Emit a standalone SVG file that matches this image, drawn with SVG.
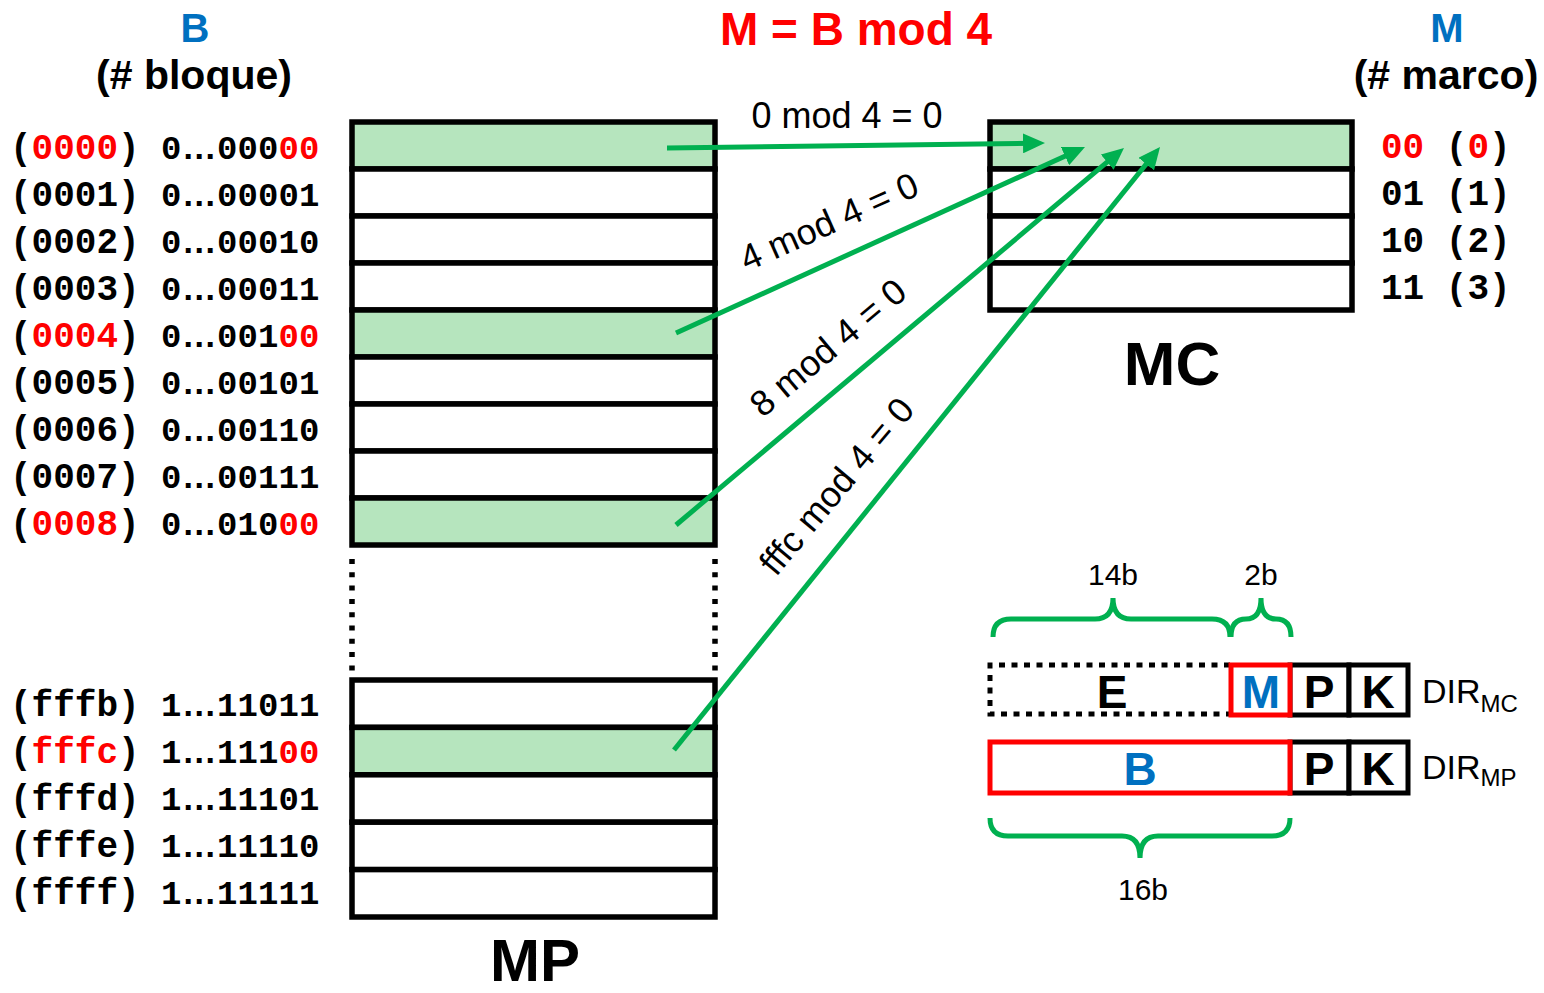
<svg xmlns="http://www.w3.org/2000/svg" width="1544" height="993" viewBox="0 0 1544 993">
<defs>
<style>
.hdr{font-family:"Liberation Sans",Arial,sans-serif;font-weight:bold;}
.lbl{font-family:"Liberation Sans",Arial,sans-serif;font-size:36px;fill:#000;}
.mono{font-family:"Liberation Mono","Courier New",monospace;font-weight:bold;fill:#000;}
.idx{font-size:36px;}
.bin{font-size:34px;}
.red{fill:#FF0000;}
.blue{fill:#0070C0;}
.row{stroke:#000;stroke-width:5.5;fill:#fff;}
.hit{fill:#B6E5BE;}
.dots{stroke:#000;stroke-width:5.5;fill:none;stroke-dasharray:5 8.3;}
.conn{stroke:#00B050;stroke-width:5;fill:none;marker-end:url(#ah);}
.brace{stroke:#00B050;stroke-width:5;fill:none;}
.fld{stroke:#000;stroke-width:5;fill:#fff;}
.fldr{stroke:#FF0000;stroke-width:5;fill:#fff;}
.big{font-family:"Liberation Sans",Arial,sans-serif;font-weight:bold;font-size:46px;text-anchor:middle;}
.small{font-family:"Liberation Sans",Arial,sans-serif;font-size:30px;text-anchor:middle;fill:#000;}
</style>
<marker id="ah" markerUnits="userSpaceOnUse" markerWidth="22" markerHeight="20" viewBox="0 0 22 20" refX="10" refY="10" orient="auto"><path d="M0,0 L22,10 L0,20 z" fill="#00B050"/></marker>
</defs>
<rect width="1544" height="993" fill="#fff"/>

<g id="headers">
<text class="hdr blue" x="195" y="42" font-size="40" text-anchor="middle">B</text>
<text class="hdr" x="194" y="89" font-size="41" text-anchor="middle">(# bloque)</text>
<text class="hdr red" x="856" y="45" font-size="46" text-anchor="middle">M = B mod 4</text>
<text class="hdr blue" x="1447" y="42" font-size="40" text-anchor="middle">M</text>
<text class="hdr" x="1446" y="89" font-size="41" text-anchor="middle">(# marco)</text>
</g>

<g id="block-labels">
<text class="mono idx" x="10" y="159">(<tspan class="red">0000</tspan>)</text>
<text class="mono idx" x="10" y="206">(0001)</text>
<text class="mono idx" x="10" y="253">(0002)</text>
<text class="mono idx" x="10" y="300">(0003)</text>
<text class="mono idx" x="10" y="347">(<tspan class="red">0004</tspan>)</text>
<text class="mono idx" x="10" y="394">(0005)</text>
<text class="mono idx" x="10" y="441">(0006)</text>
<text class="mono idx" x="10" y="488">(0007)</text>
<text class="mono idx" x="10" y="535">(<tspan class="red">0008</tspan>)</text>
<text class="mono idx" x="10" y="716">(fffb)</text>
<text class="mono idx" x="10" y="763">(<tspan class="red">fffc</tspan>)</text>
<text class="mono idx" x="10" y="810">(fffd)</text>
<text class="mono idx" x="10" y="857">(fffe)</text>
<text class="mono idx" x="10" y="904">(ffff)</text>

<text class="mono bin" y="159"><tspan x="161 178 189 200 217 237.5 258">0...000</tspan><tspan class="red" x="278.5 299">00</tspan></text>
<text class="mono bin" y="206" x="161 178 189 200 217 237.5 258 278.5 299">0...00001</text>
<text class="mono bin" y="253" x="161 178 189 200 217 237.5 258 278.5 299">0...00010</text>
<text class="mono bin" y="300" x="161 178 189 200 217 237.5 258 278.5 299">0...00011</text>
<text class="mono bin" y="347"><tspan x="161 178 189 200 217 237.5 258">0...001</tspan><tspan class="red" x="278.5 299">00</tspan></text>
<text class="mono bin" y="394" x="161 178 189 200 217 237.5 258 278.5 299">0...00101</text>
<text class="mono bin" y="441" x="161 178 189 200 217 237.5 258 278.5 299">0...00110</text>
<text class="mono bin" y="488" x="161 178 189 200 217 237.5 258 278.5 299">0...00111</text>
<text class="mono bin" y="535"><tspan x="161 178 189 200 217 237.5 258">0...010</tspan><tspan class="red" x="278.5 299">00</tspan></text>
<text class="mono bin" y="716" x="161 178 189 200 217 237.5 258 278.5 299">1...11011</text>
<text class="mono bin" y="763"><tspan x="161 178 189 200 217 237.5 258">1...111</tspan><tspan class="red" x="278.5 299">00</tspan></text>
<text class="mono bin" y="810" x="161 178 189 200 217 237.5 258 278.5 299">1...11101</text>
<text class="mono bin" y="857" x="161 178 189 200 217 237.5 258 278.5 299">1...11110</text>
<text class="mono bin" y="904" x="161 178 189 200 217 237.5 258 278.5 299">1...11111</text>
</g>

<g id="MP">
<rect class="row hit" x="352" y="122" width="363" height="47"/>
<rect class="row" x="352" y="169" width="363" height="47"/>
<rect class="row" x="352" y="216" width="363" height="47"/>
<rect class="row" x="352" y="263" width="363" height="47"/>
<rect class="row hit" x="352" y="310" width="363" height="47"/>
<rect class="row" x="352" y="357" width="363" height="47"/>
<rect class="row" x="352" y="404" width="363" height="47"/>
<rect class="row" x="352" y="451" width="363" height="47"/>
<rect class="row hit" x="352" y="498" width="363" height="47"/>
<line class="dots" x1="352" y1="559" x2="352" y2="672"/>
<line class="dots" x1="715" y1="559" x2="715" y2="672"/>
<rect class="row" x="352" y="680" width="363" height="47.4"/>
<rect class="row hit" x="352" y="727.4" width="363" height="47.4"/>
<rect class="row" x="352" y="774.8" width="363" height="47.4"/>
<rect class="row" x="352" y="822.2" width="363" height="47.4"/>
<rect class="row" x="352" y="869.6" width="363" height="47.4"/>
<text class="hdr" x="535" y="981" font-size="60" text-anchor="middle">MP</text>
</g>

<g id="MC">
<rect class="row hit" x="990" y="122" width="362" height="47"/>
<rect class="row" x="990" y="169" width="362" height="47"/>
<rect class="row" x="990" y="216" width="362" height="47"/>
<rect class="row" x="990" y="263" width="362" height="47"/>
<text class="hdr" x="1172" y="385" font-size="62" text-anchor="middle">MC</text>
<text class="mono idx" x="1381" y="158"><tspan class="red">00</tspan> (<tspan class="red">0</tspan>)</text>
<text class="mono idx" x="1381" y="205">01 (1)</text>
<text class="mono idx" x="1381" y="252">10 (2)</text>
<text class="mono idx" x="1381" y="299">11 (3)</text>
</g>

<g id="connectors">
<line class="conn" x1="667" y1="148" x2="1033" y2="143.2"/>
<line class="conn" x1="676" y1="333" x2="1074.1" y2="152"/>
<line class="conn" x1="676" y1="525" x2="1114.8" y2="155.7"/>
<line class="conn" x1="674" y1="750" x2="1152.5" y2="156.3"/>
<text class="lbl" x="847" y="128" text-anchor="middle">0 mod 4 = 0</text>
<text class="lbl" text-anchor="middle" transform="translate(834,233) rotate(-24)">4 mod 4 = 0</text>
<text class="lbl" text-anchor="middle" transform="translate(836,357) rotate(-40)">8 mod 4 = 0</text>
<text class="lbl" text-anchor="middle" transform="translate(846,494) rotate(-50)">fffc mod 4 = 0</text>
</g>

<g id="addr-format">
<path class="brace" d="M993,637 Q993,619 1011,619 L1095,619 Q1113,619 1113,598 Q1113,619 1131,619 L1212,619 Q1230,619 1230,637"/>
<path class="brace" d="M1231,637 Q1231,619 1246,619 Q1261,619 1261,598 Q1261,619 1276,619 Q1291,619 1291,637"/>
<text class="small" x="1113" y="585">14b</text>
<text class="small" x="1261" y="585">2b</text>
<path d="M1230,665 L990,665 L990,714 L1230,714" fill="none" stroke="#000" stroke-width="5" stroke-dasharray="6 6.5"/>
<rect class="fld" x="1290" y="665" width="59" height="50"/>
<rect class="fld" x="1349" y="665" width="59" height="50"/>
<rect class="fldr" x="1231" y="665" width="59" height="50"/>
<text class="big" x="1112" y="708">E</text>
<text class="big blue" x="1261" y="708">M</text>
<text class="big" x="1319" y="708">P</text>
<text class="big" x="1378" y="708">K</text>
<text font-family="Liberation Sans, Arial, sans-serif" font-size="34" x="1422" y="703">DIR<tspan font-size="24" dy="9">MC</tspan></text>

<rect class="fld" x="1290" y="742" width="59" height="51"/>
<rect class="fld" x="1349" y="742" width="59" height="51"/>
<rect class="fldr" x="990" y="742" width="300" height="51"/>
<text class="big blue" x="1140" y="785">B</text>
<text class="big" x="1319" y="785">P</text>
<text class="big" x="1378" y="785">K</text>
<text font-family="Liberation Sans, Arial, sans-serif" font-size="34" x="1422" y="779">DIR<tspan font-size="24" dy="7">MP</tspan></text>
<path class="brace" d="M990,818 Q990,836 1008,836 L1122,836 Q1140,836 1140,858 Q1140,836 1158,836 L1272,836 Q1290,836 1290,818"/>
<text class="small" x="1143" y="900">16b</text>
</g>
</svg>
